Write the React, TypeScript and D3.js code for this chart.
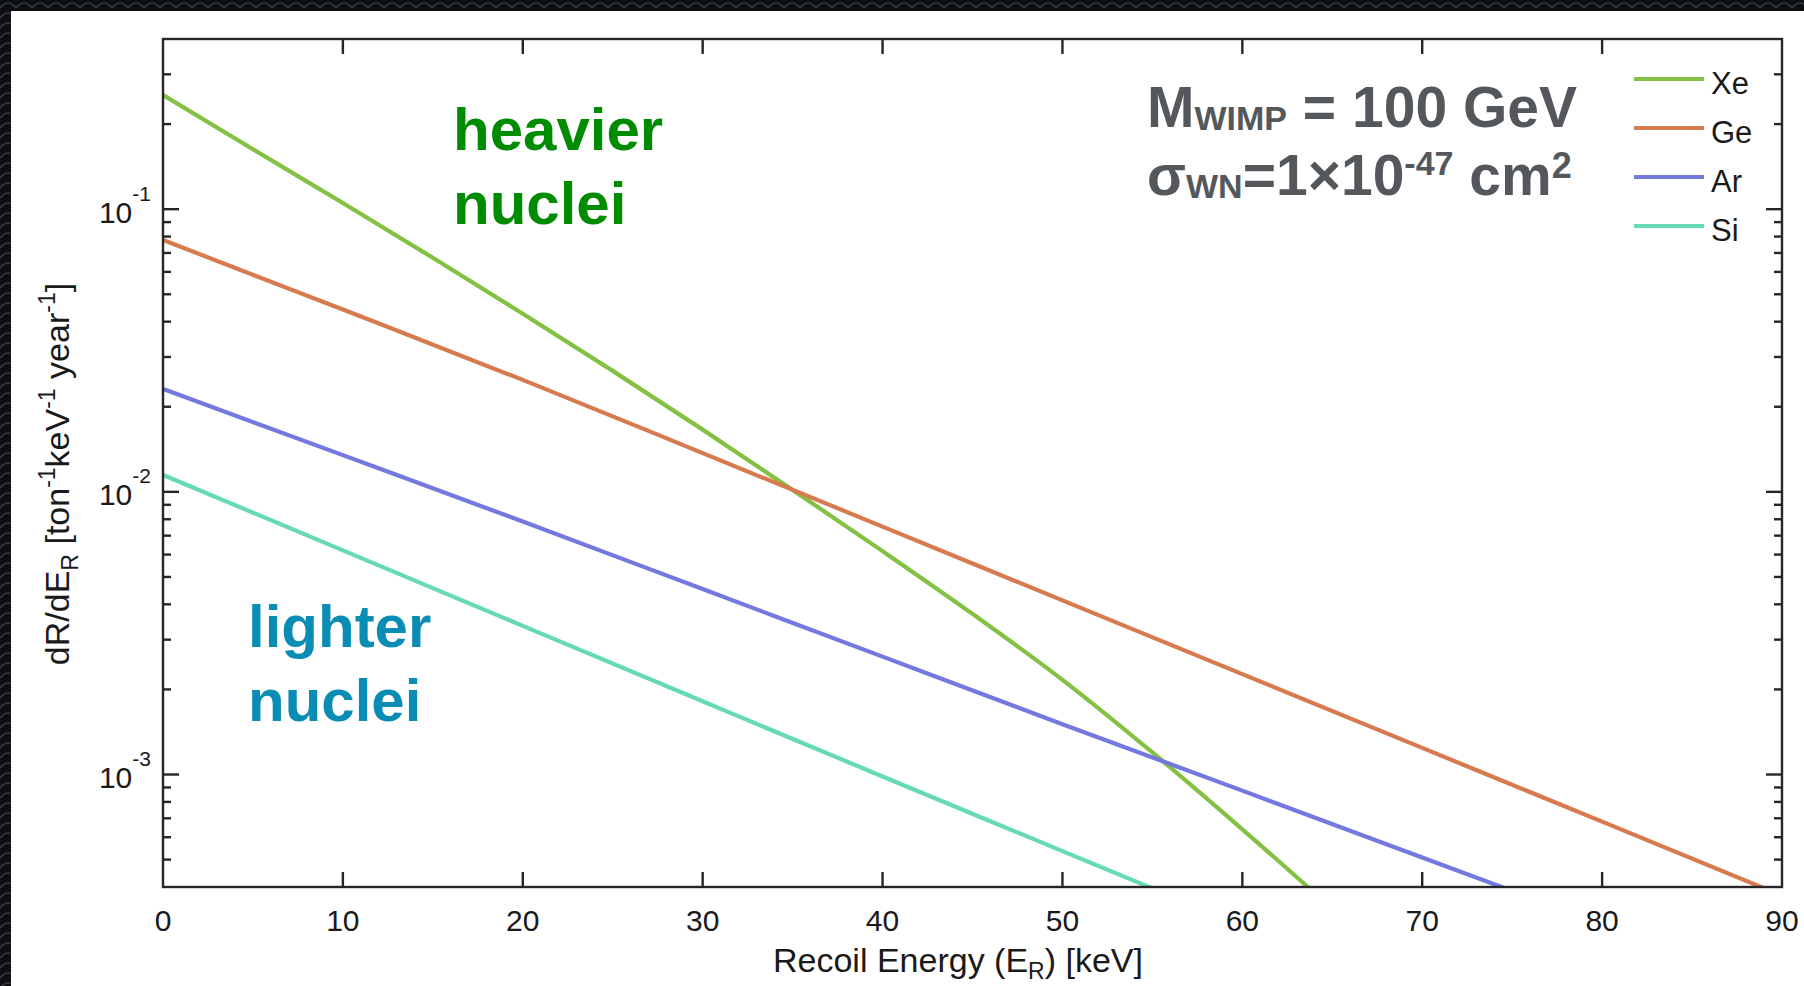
import React, { useRef, useEffect } from "react";
import * as d3 from "d3";

// recoil energy grid (keV) for Ge, Ar, Si; Xe is read at a finer step because it bends
const energyKeV = [0, 10, 20, 30, 40, 50, 60, 70, 80, 90];
const xeEnergyKeV = [0, 5, 10, 15, 20, 25, 30, 35, 40, 45, 50, 55, 60, 65];

// dR/dE_R [ton^-1 keV^-1 year^-1]
const rateXe = [0.2535, 0.1629, 0.1052, 0.0673, 0.04266, 0.02679, 0.0166, 0.01016, 0.00617, 0.0037, 0.002163, 0.001197, 0.00064, 0.000335];
const rateGe = [0.0778, 0.04416, 0.02489, 0.01371, 0.007534, 0.00413, 0.002265, 0.001242, 0.000681, 0.000373];
const rateAr = [0.02312, 0.01349, 0.007852, 0.004529, 0.002612, 0.001507, 0.000877, 0.000509, 0.000295];
const rateSi = [0.01148, 0.006209, 0.003357, 0.001816, 0.000984, 0.000536, 0.000292];

const seriesNames = ["Xe", "Ge", "Ar", "Si"];
const seriesColors = ["#82c142", "#d77a50", "#7479df", "#66dab5"];

const xTicks = [0, 10, 20, 30, 40, 50, 60, 70, 80, 90];
const yTickExponents = [-1, -2, -3];

const W = 1804;
const H = 986;
const FONT = "'Liberation Sans', Arial, Helvetica, sans-serif";

const App = () => {
    const svgRef = useRef(null);

    useEffect(() => {
        const svg = d3.select(svgRef.current);
        svg.selectAll("*").remove();

        const left = 163, right = 1782, top = 39, bottom = 887;
        const x = d3.scaleLinear().domain([0, 90]).range([left, right]);
        const y = d3.scaleLog().domain([4e-4, 0.4]).range([bottom, top]);

        const defs = svg.append("defs");

        // dark textured backdrop
        const pat = defs.append("pattern")
            .attr("id", "scales")
            .attr("width", 16)
            .attr("height", 10)
            .attr("patternUnits", "userSpaceOnUse");
        pat.append("rect").attr("width", 16).attr("height", 10).attr("fill", "#0c0e11");
        pat.append("path")
            .attr("d", "M0,8 Q8,-2 16,8")
            .attr("fill", "none")
            .attr("stroke", "#343a42")
            .attr("stroke-width", 1.6);

        defs.append("clipPath").attr("id", "plotClip")
            .append("rect")
            .attr("x", left).attr("y", top)
            .attr("width", right - left).attr("height", bottom - top);

        svg.append("rect").attr("width", W).attr("height", H).attr("fill", "url(#scales)");
        svg.append("rect").attr("x", 11).attr("y", 11).attr("width", W - 11).attr("height", H - 11).attr("fill", "#ffffff");

        // curves
        const series = [
            { e: xeEnergyKeV, r: rateXe },
            { e: energyKeV, r: rateGe },
            { e: energyKeV, r: rateAr },
            { e: energyKeV, r: rateSi },
        ];
        const line = d3.line()
            .x(d => x(d[0]))
            .y(d => y(d[1]))
            .curve(d3.curveMonotoneX);

        const curves = svg.append("g").attr("clip-path", "url(#plotClip)");
        series.forEach((s, i) => {
            const pts = s.r.map((v, k) => [s.e[k], v]);
            curves.append("path")
                .attr("d", line(pts))
                .attr("fill", "none")
                .attr("stroke", seriesColors[i])
                .attr("stroke-width", 4.2)
                .attr("stroke-linejoin", "round");
        });

        // frame + ticks
        const axisColor = "#262626";
        const ax = svg.append("g").attr("stroke", axisColor).attr("stroke-width", 2.4);
        ax.append("rect")
            .attr("x", left).attr("y", top)
            .attr("width", right - left).attr("height", bottom - top)
            .attr("fill", "none");

        xTicks.slice(1, -1).forEach(t => {
            ax.append("line").attr("x1", x(t)).attr("x2", x(t)).attr("y1", bottom).attr("y2", bottom - 15);
            ax.append("line").attr("x1", x(t)).attr("x2", x(t)).attr("y1", top).attr("y2", top + 15);
        });

        const [ymin, ymax] = y.domain();
        y.ticks().filter(v => v > ymin * 1.0001 && v < ymax * 0.9999).forEach(v => {
            const mant = Math.round(v / Math.pow(10, Math.floor(Math.log10(v) + 1e-9)));
            const len = mant === 1 ? 16 : 8;
            ax.append("line").attr("x1", left).attr("x2", left + len).attr("y1", y(v)).attr("y2", y(v));
            ax.append("line").attr("x1", right).attr("x2", right - len).attr("y1", y(v)).attr("y2", y(v));
        });

        // tick labels
        const labels = svg.append("g").attr("font-family", FONT).attr("fill", "#1a1a1a");
        xTicks.forEach(t => {
            labels.append("text")
                .attr("x", x(t)).attr("y", 931)
                .attr("text-anchor", "middle")
                .attr("font-size", 30)
                .text(t);
        });
        yTickExponents.forEach(ex => {
            const tx = labels.append("text")
                .attr("x", 151).attr("y", y(Math.pow(10, ex)) + 13.5)
                .attr("text-anchor", "end")
                .attr("font-size", 30);
            tx.append("tspan").text("10");
            tx.append("tspan").attr("dy", -22).attr("font-size", 21).text(ex);
        });

        // axis titles
        const xl = labels.append("text")
            .attr("x", 958).attr("y", 972)
            .attr("text-anchor", "middle")
            .attr("font-size", 34);
        xl.append("tspan").text("Recoil Energy (E");
        xl.append("tspan").attr("dy", 7).attr("font-size", 23).text("R");
        xl.append("tspan").attr("dy", -7).text(") [keV]");

        const yl = labels.append("text")
            .attr("transform", "translate(69,474) rotate(-90)")
            .attr("text-anchor", "middle")
            .attr("font-size", 34);
        yl.append("tspan").text("dR/dE");
        yl.append("tspan").attr("dy", 9).attr("font-size", 23).text("R");
        yl.append("tspan").attr("dy", -9).text(" [ton");
        yl.append("tspan").attr("dy", -14).attr("font-size", 23).text("-1");
        yl.append("tspan").attr("dy", 14).text("keV");
        yl.append("tspan").attr("dy", -14).attr("font-size", 23).text("-1");
        yl.append("tspan").attr("dy", 14).text(" year");
        yl.append("tspan").attr("dy", -14).attr("font-size", 23).text("-1");
        yl.append("tspan").attr("dy", 14).text("]");

        // annotations
        const note = svg.append("g").attr("font-family", FONT).attr("font-weight", "bold");
        const heavy = note.append("text").attr("fill", "#008c00").attr("font-size", 60);
        heavy.append("tspan").attr("x", 453).attr("y", 150).text("heavier");
        heavy.append("tspan").attr("x", 453).attr("y", 224).text("nuclei");

        const light = note.append("text").attr("fill", "#0a8db5").attr("font-size", 60);
        light.append("tspan").attr("x", 248).attr("y", 647).text("lighter");
        light.append("tspan").attr("x", 248).attr("y", 721).text("nuclei");

        const gray = "#54585c";
        const m1 = note.append("text").attr("x", 1147).attr("y", 127).attr("fill", gray).attr("font-size", 57);
        m1.append("tspan").text("M");
        m1.append("tspan").attr("dy", 3).attr("font-size", 34).text("WIMP");
        m1.append("tspan").attr("dy", -3).text(" = 100 GeV");

        const m2 = note.append("text").attr("x", 1147).attr("y", 195).attr("fill", gray).attr("font-size", 57);
        m2.append("tspan").text("σ");
        m2.append("tspan").attr("dy", 3).attr("font-size", 34).text("WN");
        m2.append("tspan").attr("dy", -3).text("=1×10");
        m2.append("tspan").attr("dy", -20).attr("font-size", 34).text("-47");
        m2.append("tspan").attr("dy", 20).text(" cm");
        m2.append("tspan").attr("dy", -17).attr("font-size", 36).text("2");

        // legend
        const legend = svg.append("g").attr("font-family", FONT);
        seriesNames.forEach((name, i) => {
            const ly = 79 + i * 49;
            legend.append("line")
                .attr("x1", 1634).attr("x2", 1704)
                .attr("y1", ly).attr("y2", ly)
                .attr("stroke", seriesColors[i])
                .attr("stroke-width", 4);
            legend.append("text")
                .attr("x", 1711).attr("y", ly + 15)
                .attr("font-size", 31)
                .attr("fill", "#1a1a1a")
                .text(name);
        });
    }, []);

    return (
        <svg
            ref={svgRef}
            width={W}
            height={H}
            style={{ position: "absolute", left: 0, top: 0, display: "block" }}
        />
    );
};

export default App;
